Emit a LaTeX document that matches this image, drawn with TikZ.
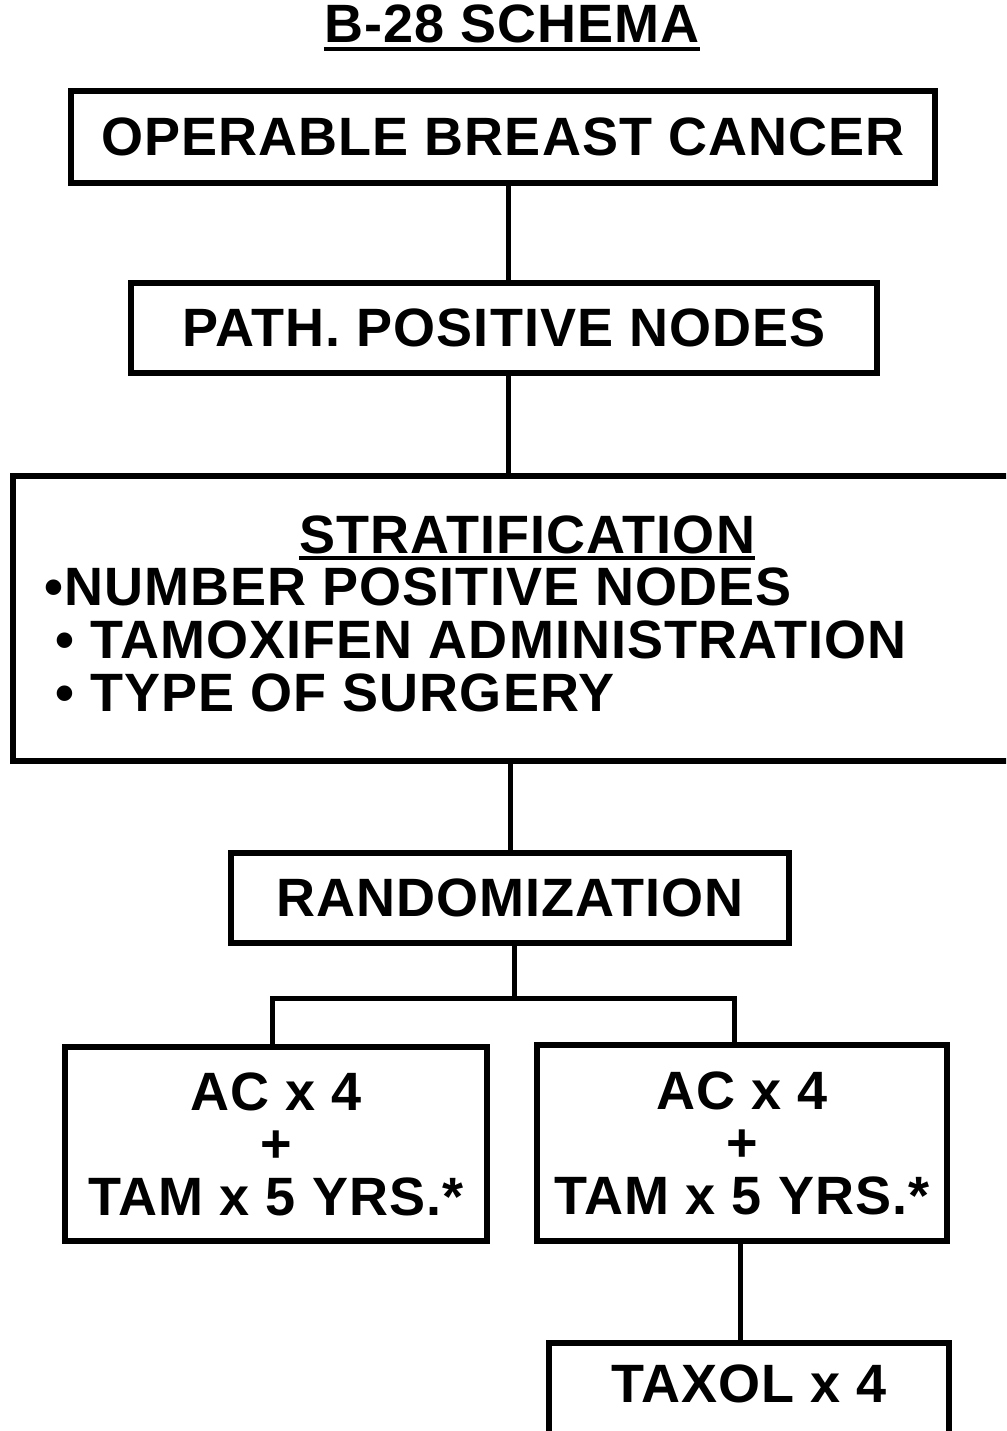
\documentclass[tikz,border=0pt]{standalone}
\usepackage{fontspec}
\setmainfont{Liberation Sans}[LetterSpace=2]
\begin{document}
\begin{tikzpicture}[x=1pt,y=-1pt,
  every node/.style={font=\fontsize{54}{52.5}\selectfont\bfseries, inner sep=0pt},
  box/.style={draw, line width=6pt, rectangle, align=center},
  link/.style={line width=5pt}]
\useasboundingbox (0,0) rectangle (1006,1431);
\clip (0,0) rectangle (1006,1431);
\fill[white] (0,0) rectangle (1006,1431);

% title
\node[anchor=base] (title) at (512,43) {B-28 SCHEMA};
\draw[line width=4pt] ([yshift=-6pt]title.base west) -- ([yshift=-6pt]title.base east);

% boxes
\node[box, minimum width=864pt, minimum height=92pt] (b1) at (503,137) {OPERABLE BREAST CANCER};
\node[box, minimum width=746pt, minimum height=90pt] (b2) at (504,328) {PATH. POSITIVE NODES};
\node[box, minimum width=1027pt, minimum height=285pt] (b3) at (526.5,618.5) {};
\node[box, minimum width=558pt, minimum height=90pt] (b4) at (510,898) {RANDOMIZATION};
\node[box, minimum width=422pt, minimum height=194pt] (b5) at (276,1144) {AC x 4\\+\\TAM x 5 YRS.*};
\node[box, minimum width=410pt, minimum height=196pt] (b6) at (742,1143) {AC x 4\\+\\TAM x 5 YRS.*};
\node[box, minimum width=400pt, minimum height=157pt] (b7) at (749,1421.5) {};
\node[anchor=base] (taxol) at (749,1402) {TAXOL x 4};

% stratification text
\node[anchor=base] (st0) at (527,553) {STRATIFICATION};
\draw[line width=4pt] ([yshift=-5pt]st0.base west) -- ([yshift=-5pt]st0.base east);
\node[anchor=base west] (st1) at (44,605) {•NUMBER POSITIVE NODES};
\node[anchor=base west] (st2) at (55,658) {• TAMOXIFEN ADMINISTRATION};
\node[anchor=base west] (st3) at (55,711) {• TYPE OF SURGERY};

% connector guide coordinates
\coordinate (c1) at (508,0);
\coordinate (c3) at (510,0);
\coordinate (split) at (514,998);
\coordinate (bl) at (272,998);
\coordinate (br) at (734,998);
\coordinate (c6) at (740,0);

% connectors
\draw[link] (b1.south -| c1) -- (b2.north -| c1);
\draw[link] (b2.south -| c1) -- (b3.north -| c1);
\draw[link] (b3.south -| c3) -- (b4.north -| c3);
\draw[link] (b4.south -| split) -- (split);
\draw[link] (bl |- b5.north) -- (bl) -- (br) -- (br |- b6.north);
\draw[link] (b6.south -| c6) -- (b7.north -| c6);
\end{tikzpicture}
\end{document}
